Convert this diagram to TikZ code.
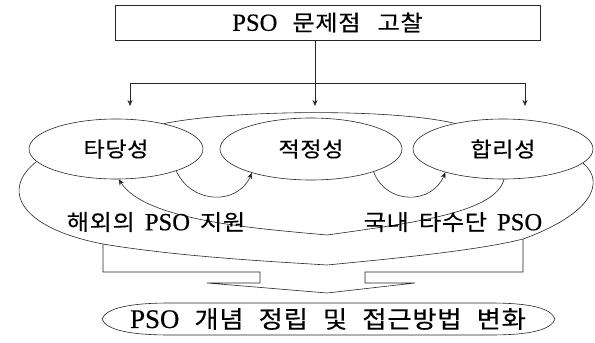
\documentclass[tikz,border=0pt]{standalone}
\usepackage{fontspec}
\setmainfont{Noto Sans CJK KR}[FakeStretch=1.1,LetterSpace=3,FakeBold=0.4]
\newfontfamily\en{Liberation Serif}[Scale=1.12,FakeBold=0.4]
\usetikzlibrary{shapes.geometric,arrows.meta}
\newcommand\ws{\hspace{10pt}}
\begin{document}
\begin{tikzpicture}[x=1pt,y=-1pt,
  ln/.style={line width=0.6pt,draw=black!85},
  arr/.style={ln,-{Stealth[length=6pt,width=5pt]}},
  lbl/.style={font=\fontsize{22}{24}\selectfont,inner sep=0pt},
  oval/.style={ln,ellipse,inner sep=0pt}]
\useasboundingbox (0,0) rectangle (595,343);
% top box
\node[ln,draw,rectangle,minimum width=425pt,minimum height=35pt,inner sep=0pt,
      font=\fontsize{22}{24}\selectfont] (top) at (327.5,22.5) {{\en PSO}\hspace{15pt}문제점\hspace{17pt}고찰};
\coordinate (j) at (315,83);
\coordinate (hl) at (130,83);
\coordinate (hr) at (525,83);
\coordinate (t1) at (130,106);
\coordinate (t2) at (315,106);
\coordinate (t3) at (525,106);
\draw[ln] (top.south -| j) -- (j);
\draw[ln] (hl) -- (hr);
\draw[arr] (hl) -- (t1);
\draw[arr] (j) -- (t2);
\draw[arr] (hr) -- (t3);
% ellipses
\node[oval,minimum width=174pt,minimum height=60pt] (e1) at (116,149) {};
\node[oval,minimum width=182pt,minimum height=62pt] (e2) at (311,149) {};
\node[oval,minimum width=180pt,minimum height=60pt] (e3) at (503,149) {};
\node[lbl,font=\fontsize{21}{24}\selectfont] (e1t) at (e1.center) {타당성};
\node[lbl,font=\fontsize{21}{24}\selectfont] (e2t) at (e2.center) {적정성};
\node[lbl,font=\fontsize{21}{24}\selectfont] (e3t) at (e3.center) {합리성};
% top arc of the band
\draw[ln] (e1.28) .. controls (230,110) and (390,108) .. (e3.152);
% small arcs
\draw[arr] (e1.-20) .. controls (192,205) and (238,205) .. (e2.-158);
\draw[arr] (e2.-20) .. controls (386,205) and (432,205) .. (e3.-158);
% long connector (inner band edge)
\coordinate (v1) at (327,235);
\draw[arr] (e3.-88) .. controls (495,212) and (420,222) .. (v1)
            .. controls (250,228) and (145,220) .. (e1.-85);
% outer band edge
\coordinate (bl) at (103,244);
\coordinate (v2) at (327,265);
\coordinate (br) at (523,239);
\draw[ln] (e1.-171) .. controls (0,190) and (20,228) .. (bl)
          .. controls (180,257) and (280,262) .. (v2)
          .. controls (400,258) and (480,250) .. (br)
          .. controls (592,214) and (606,182) .. (e3.-10);
% labels inside the band
\node[lbl] (l1) at (156,222) {해외의\ws{\en PSO}\ws 지원};
\node[lbl] (l2) at (453,222) {국내\ws 타수단\ws{\en PSO}};
% block arrow
\draw[ln] (bl) -- (103,272) -- (260,272) -- (260,283) -- (207,283) -- (327,293)
          -- (415,283) -- (365,283) -- (365,272) -- (523,272) -- (br);
% bottom oval
\node[lbl,font=\fontsize{24}{26}\selectfont] (bot) at (328,319)
   {{\en PSO}\hspace{15pt}개념\hspace{15pt}정립\hspace{15pt}및\hspace{15pt}접근방법\hspace{15pt}변화};
\draw[ln] (102,319) .. controls (106,308) and (130,303) .. (170,303) -- (490,303)
          .. controls (530,303) and (551,308) .. (555,319)
          .. controls (551,330) and (530,335) .. (490,335) -- (170,335)
          .. controls (130,335) and (106,330) .. cycle;
\end{tikzpicture}
\end{document}
